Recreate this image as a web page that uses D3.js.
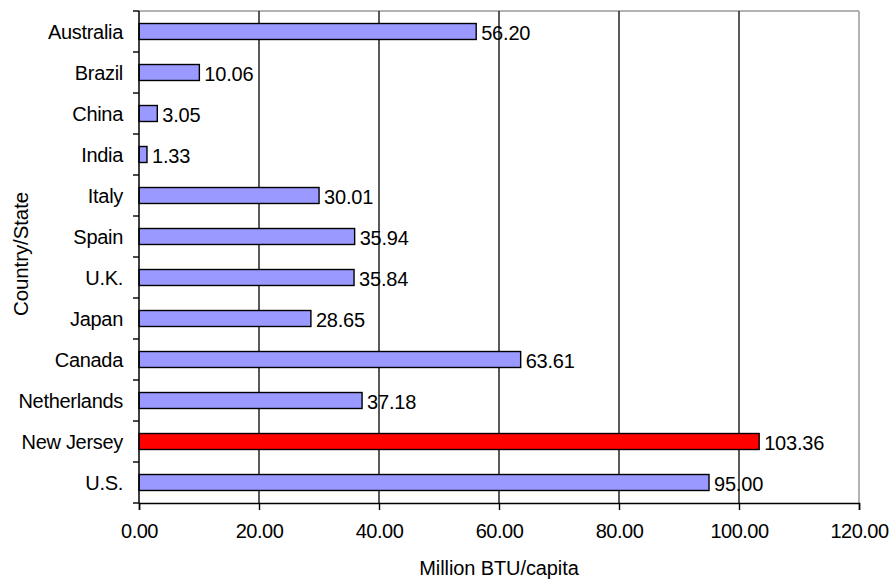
<!DOCTYPE html>
<html>
<head>
<meta charset="utf-8">
<script src="https://cdn.jsdelivr.net/npm/d3@7"></script>
<style>
  html, body { margin: 0; padding: 0; background: #fff; }
  text { font-family: "Liberation Sans", Arial, sans-serif; fill: #000; }
</style>
</head>
<body>
<svg id="chart" width="894" height="581"></svg>
<script>
// Energy use per capita by country/state
const categories = ["Australia", "Brazil", "China", "India", "Italy", "Spain", "U.K.", "Japan", "Canada", "Netherlands", "New Jersey", "U.S."];
const values = [56.20, 10.06, 3.05, 1.33, 30.01, 35.94, 35.84, 28.65, 63.61, 37.18, 103.36, 95.00];
const highlighted = ["New Jersey"];
const xTicks = [0, 20, 40, 60, 80, 100, 120];

const svg = d3.select("#chart");
const margin = { top: 11, right: 35, bottom: 78, left: 139 };
const W = 894, H = 581;
const innerW = W - margin.left - margin.right;
const innerH = H - margin.top - margin.bottom;

const g = svg.append("g").attr("transform", `translate(${margin.left},${margin.top})`);

const x = d3.scaleLinear().domain([0, 120]).range([0, innerW]);
const y = d3.scaleBand().domain(categories).range([0, innerH]).paddingInner(0.61).paddingOuter(0.305);

// plot frame (top and right edges)
g.append("line").attr("x1", 0).attr("x2", innerW).attr("y1", 0).attr("y2", 0)
  .attr("stroke", "#9a9a9a").attr("stroke-width", 1.5);
g.append("line").attr("x1", innerW).attr("x2", innerW).attr("y1", 0).attr("y2", innerH)
  .attr("stroke", "#9a9a9a").attr("stroke-width", 1.5);

// vertical gridlines
g.selectAll(".grid").data(xTicks.filter(t => t > 0 && t < 120)).enter().append("line")
  .attr("x1", d => x(d)).attr("x2", d => x(d))
  .attr("y1", 0).attr("y2", innerH)
  .attr("stroke", "#000").attr("stroke-width", 1.3);

// bars
const data = categories.map((c, i) => ({ c, v: values[i] }));
g.selectAll(".bar").data(data).enter().append("rect")
  .attr("x", 0)
  .attr("y", d => y(d.c))
  .attr("width", d => x(d.v))
  .attr("height", y.bandwidth())
  .attr("fill", d => highlighted.includes(d.c) ? "#ff0000" : "#9999ff")
  .attr("stroke", "#000").attr("stroke-width", 1.4);

// value labels
g.selectAll(".val").data(data).enter().append("text")
  .attr("x", d => x(d.v) + 5)
  .attr("y", d => y(d.c) + y.bandwidth() / 2 + 1)
  .attr("dominant-baseline", "central")
  .style("font-size", "20px").style("letter-spacing", "-0.2px")
  .text(d => d.v.toFixed(2));

// x axis
const xAxis = g.append("g").attr("transform", `translate(0,${innerH})`)
  .call(d3.axisBottom(x).tickValues(xTicks).tickFormat(d => d.toFixed(2)).tickSizeOuter(0).tickSize(7).tickPadding(14));
xAxis.select(".domain").attr("stroke", "#000").attr("stroke-width", 1.5);
xAxis.selectAll(".tick line").attr("stroke", "#000").attr("stroke-width", 1.4);
xAxis.selectAll("text").style("font-size", "20px").style("letter-spacing", "-0.5px")
  .style("font-family", "'Liberation Sans', Arial, sans-serif").attr("fill", "#000");

// y axis: ticks at the band boundaries, labels centred on each band
const bounds = d3.range(categories.length + 1).map(i => i * innerH / categories.length);
const yAxisG = g.append("g");
yAxisG.append("line").attr("x1", 0).attr("x2", 0).attr("y1", 0).attr("y2", innerH)
  .attr("stroke", "#000").attr("stroke-width", 1.5);
yAxisG.selectAll(".ytick").data(bounds).enter().append("line")
  .attr("x1", -6).attr("x2", 0).attr("y1", d => d).attr("y2", d => d)
  .attr("stroke", "#000").attr("stroke-width", 1.4);
yAxisG.selectAll(".ylab").data(categories).enter().append("text")
  .attr("x", -16)
  .attr("y", d => y(d) + y.bandwidth() / 2)
  .attr("dominant-baseline", "central")
  .attr("text-anchor", "end")
  .style("font-size", "20px").style("letter-spacing", "-0.3px")
  .text(d => d);

// axis titles
svg.append("text")
  .attr("x", margin.left + innerW / 2)
  .attr("y", 568)
  .attr("text-anchor", "middle").attr("dominant-baseline", "central")
  .style("font-size", "20px").style("letter-spacing", "-0.1px")
  .text("Million BTU/capita");

svg.append("text")
  .attr("transform", `translate(20,${margin.top + innerH / 2 - 3}) rotate(-90)`)
  .attr("text-anchor", "middle").attr("dominant-baseline", "central")
  .style("font-size", "20.5px").style("letter-spacing", "-0.1px")
  .text("Country/State");
</script>
</body>
</html>
